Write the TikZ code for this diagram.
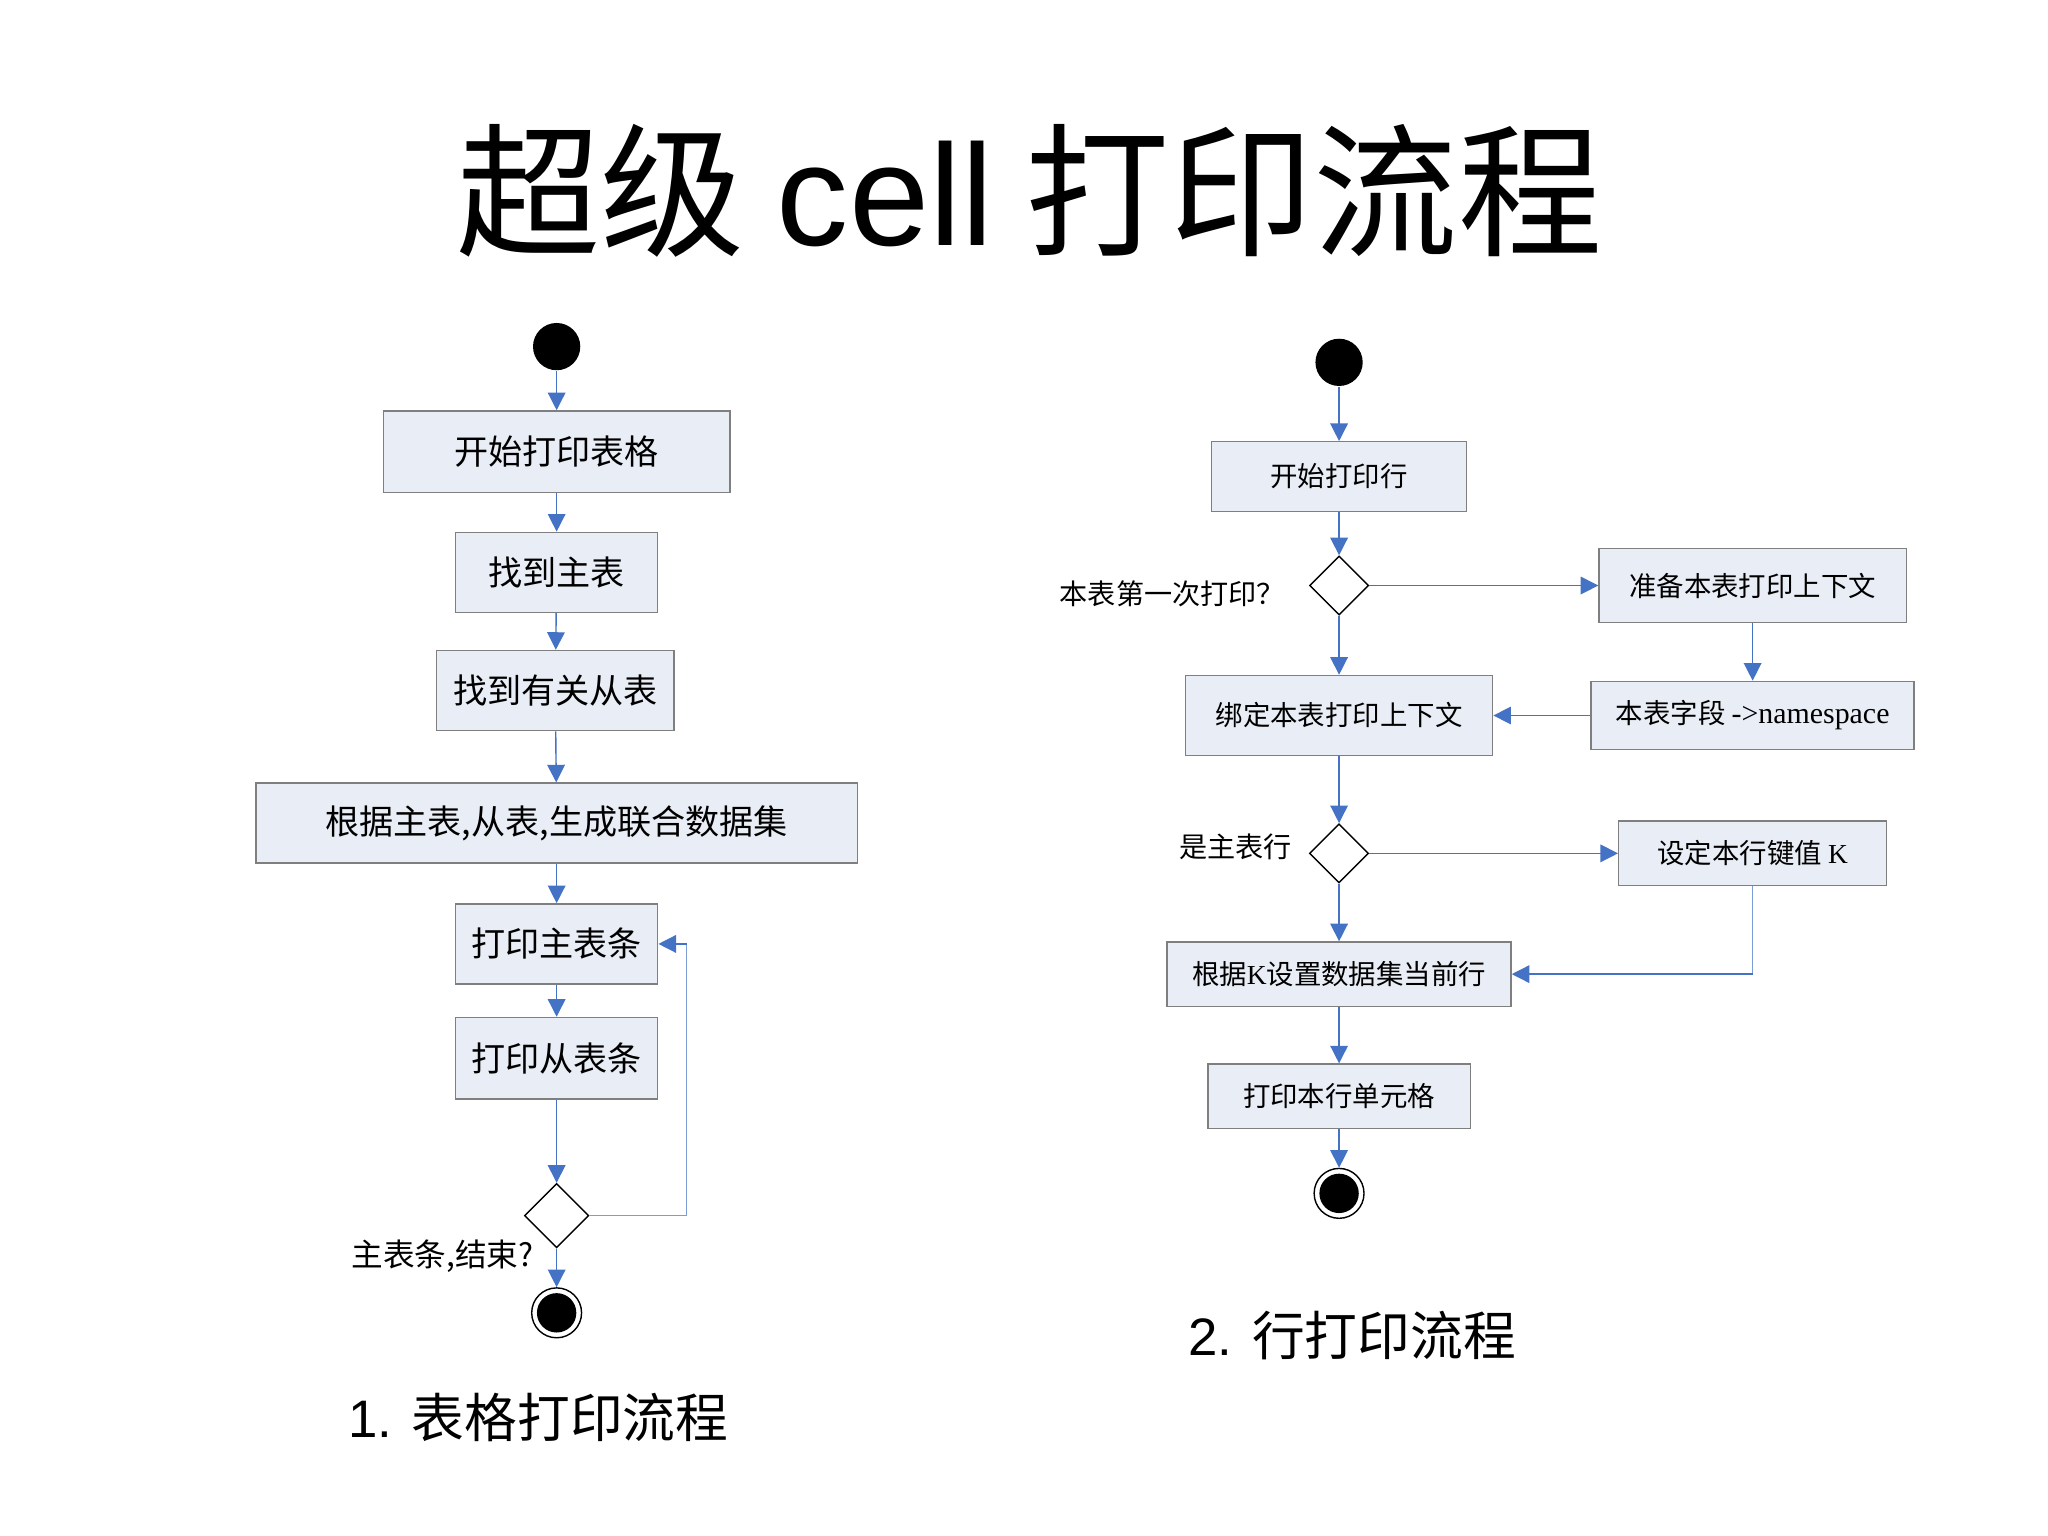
\documentclass[tikz,border=0pt]{standalone}
\usepackage{fontspec}
\setmainfont{Liberation Serif}
\newfontfamily\cjk{Noto Sans CJK SC}
\newfontfamily\sans{Liberation Sans}
\usetikzlibrary{arrows.meta,shapes.geometric}
\definecolor{bfill}{HTML}{E9EDF5}
\definecolor{bdraw}{HTML}{7F7F7F}
\definecolor{arr}{HTML}{4472C4}
\begin{document}
\begin{tikzpicture}[x=0.013128cm,y=-0.013128cm,
 box/.style={draw=bdraw,fill=bfill,inner sep=0,anchor=center,font=\cjk\fontsize{9.7}{11}\selectfont},
 rbox/.style={box,font=\cjk\fontsize{7.8}{9}\selectfont},
 dia/.style={draw=black,fill=white,diamond,minimum size=#1,inner sep=0},
 st/.style={circle,fill=black,minimum size=36*0.013128cm,inner sep=0},
 en/.style={circle,draw=black,fill=white,minimum size=38*0.013128cm,inner sep=0,path picture={\fill[black] (path picture bounding box.center) circle (15*0.013128cm);}},
 ar/.style={draw=arr,-{Triangle[length=5pt,width=5pt]},thin},
 ln/.style={draw=arr!70,thin},
 lbl/.style={font=\cjk\fontsize{8}{9}\selectfont}]
\useasboundingbox (0,0) rectangle (1560,1170);
\node[font=\cjk\fontsize{41}{45}\selectfont] (title) at (784,145) {超级 {\sans cell} 打印流程};
% left
\node[st] (s1) at (424,264) {};
\node[box,minimum width=264*0.013128cm,minimum height=62*0.013128cm] (a1) at (424,344) {开始打印表格};
\node[box,minimum width=154*0.013128cm,minimum height=61*0.013128cm] (a2) at (424,436) {找到主表};
\node[box,minimum width=181*0.013128cm,minimum height=61*0.013128cm] (a3) at (423,526) {找到有关从表};
\node[box,minimum width=458*0.013128cm,minimum height=61*0.013128cm] (a4) at (424,627) {根据主表,从表,生成联合数据集};
\node[box,minimum width=154*0.013128cm,minimum height=61*0.013128cm] (a5) at (424,719) {打印主表条};
\node[box,minimum width=154*0.013128cm,minimum height=62*0.013128cm] (a6) at (424,806) {打印从表条};
\node[dia=49*0.013128cm] (d1) at (424,926) {};
\node[lbl,font=\cjk\fontsize{9}{10}\selectfont] (l1) at (337,957) {主表条,结束?};
\node[en] (e1) at (424,1000) {};
\node[font=\sans\fontsize{15}{17}\selectfont] (c1) at (410,1080) {1. {\cjk 表格打印流程}};
\draw[ar] (s1)--(a1); \draw[ar] (a1)--(a2); \draw[ar] (a2)--(a3); \draw[ar] (a3)--(a4);
\draw[ar] (a4)--(a5); \draw[ar] (a5)--(a6); \draw[ar] (a6)--(d1); \draw[ar] (d1)--(e1);
\coordinate (k1) at (523,926); \coordinate (k2) at (523,719);
\draw[ln] (d1.east)--(k1)--(k2); \draw[ar] (k2)--(a5.east);
% right
\node[st] (s2) at (1020,276) {};
\node[rbox,minimum width=194*0.013128cm,minimum height=53*0.013128cm] (b1) at (1020,363) {开始打印行};
\node[dia=45*0.013128cm] (d2) at (1020,446) {};
\node[lbl] (l2) at (893,452) {本表第一次打印？};
\node[rbox,minimum width=234*0.013128cm,minimum height=56*0.013128cm] (b2) at (1335,446) {准备本表打印上下文};
\node[rbox,minimum width=246*0.013128cm,minimum height=52*0.013128cm] (b3) at (1335,545) {本表字段 {\rmfamily\fontsize{8.5}{9}\selectfont ->namespace}};
\node[rbox,minimum width=234*0.013128cm,minimum height=61*0.013128cm] (b4) at (1020,545) {绑定本表打印上下文};
\node[dia=45*0.013128cm] (d3) at (1020,650) {};
\node[lbl] (l3) at (941,645) {是主表行};
\node[rbox,minimum width=204*0.013128cm,minimum height=49*0.013128cm] (b5) at (1335,650) {设定本行键值 {\rmfamily K}};
\node[rbox,minimum width=262*0.013128cm,minimum height=49*0.013128cm] (b6) at (1020,742) {根据{\rmfamily K}设置数据集当前行};
\node[rbox,minimum width=200*0.013128cm,minimum height=49*0.013128cm] (b7) at (1020,835) {打印本行单元格};
\node[en] (e2) at (1020,909) {};
\node[font=\sans\fontsize{15}{17}\selectfont] (c2) at (1030,1017) {2. {\cjk 行打印流程}};
\draw[ar] (s2)--(b1); \draw[ar] (b1)--(d2); \draw[ar] (d2)--(b2); \draw[ar] (b2)--(b3);
\draw[ar] (b3)--(b4); \draw[ar] (d2)--(b4); \draw[ar] (b4)--(d3); \draw[ar] (d3)--(b5);
\draw[ar] (d3)--(b6); \draw[ar] (b6)--(b7); \draw[ar] (b7)--(e2);
\coordinate (k3) at (1335,742);
\draw[ln] (b5.south)--(k3); \draw[ar] (k3)--(b6.east);
\end{tikzpicture}
\end{document}
